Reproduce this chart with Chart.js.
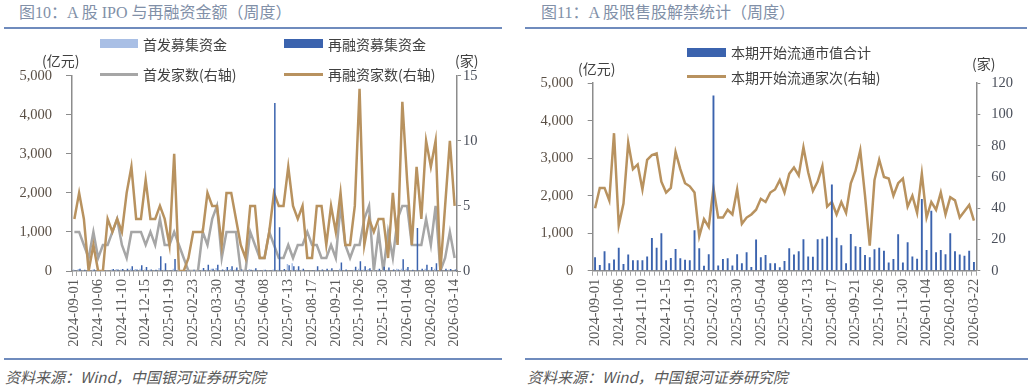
<!DOCTYPE html>
<html>
<head>
<meta charset="utf-8">
<script src="https://cdn.jsdelivr.net/npm/chart.js@4.4.0/dist/chart.umd.min.js"></script>
<style>
body { margin:0; width:1031px; height:387px; background:#fff; position:relative; overflow:hidden;
       font-family:"Liberation Serif","Noto Sans CJK SC",serif; }
.t { position:absolute; white-space:nowrap; line-height:1; }
.title { font-size:16px; color:#8190a8; top:5px; }
.rule { position:absolute; height:2px; background:#6f8bbd; }
.src { font-size:15px; color:#595959; font-style:italic; top:369px; font-family:"Noto Sans CJK SC",sans-serif; }
.leg { font-size:14px; color:#404040; font-family:"Noto Sans CJK SC",sans-serif; }
.unit { font-size:14px; color:#404040; font-family:"Noto Sans CJK SC",sans-serif; }
.sw { position:absolute; }
canvas { position:absolute; top:30px; }
</style>
</head>
<body>

<div class="t title" style="left:19px">图10：A 股 IPO 与再融资金额（周度）</div>
<div class="rule" style="left:4px;width:498px;top:27px"></div>
<div class="t title" style="left:541px">图11：A 股限售股解禁统计（周度）</div>
<div class="rule" style="left:525px;width:502px;top:27px"></div>

<canvas id="chart1" width="510" height="325" style="left:0px"></canvas>
<canvas id="chart2" width="516" height="325" style="left:515px"></canvas>

<!-- left legend -->
<div class="sw" style="left:100px;top:39px;width:38px;height:9px;background:#a9bfe5"></div>
<div class="t leg" style="left:143px;top:37px">首发募集资金</div>
<div class="sw" style="left:284px;top:39px;width:39px;height:9px;background:#3b63ae"></div>
<div class="t leg" style="left:328px;top:37px">再融资募集资金</div>
<div class="sw" style="left:100px;top:73px;width:38px;height:3px;background:#a6a6a6"></div>
<div class="t leg" style="left:143px;top:67px">首发家数(右轴)</div>
<div class="sw" style="left:284px;top:73px;width:39px;height:3px;background:#b8925f"></div>
<div class="t leg" style="left:328px;top:67px">再融资家数(右轴)</div>
<div class="t unit" style="left:42px;top:53px">(亿元)</div>
<div class="t unit" style="left:455px;top:53px">(家)</div>

<!-- right legend -->
<div class="sw" style="left:687px;top:48px;width:39px;height:9px;background:#3b63ae"></div>
<div class="t leg" style="left:731px;top:45px">本期开始流通市值合计</div>
<div class="sw" style="left:687px;top:75px;width:39px;height:3px;background:#b8925f"></div>
<div class="t leg" style="left:731px;top:70px">本期开始流通家次(右轴)</div>
<div class="t unit" style="left:578px;top:61px">(亿元)</div>
<div class="t unit" style="left:972px;top:56px">(家)</div>

<div class="rule" style="left:4px;width:498px;top:358px"></div>
<div class="rule" style="left:525px;width:503px;top:358px"></div>
<div class="t src" style="left:5px">资料来源：Wind，中国银河证券研究院</div>
<div class="t src" style="left:527px">资料来源：Wind，中国银河证券研究院</div>

<script>
// ---- 图10 data (weekly) ----
const leftTicks = ['2024-09-01','2024-10-06','2024-11-10','2024-12-15','2025-01-19','2025-02-23',
  '2025-03-30','2025-05-04','2025-06-08','2025-07-13','2025-08-17','2025-09-21','2025-10-26',
  '2025-11-30','2026-01-04','2026-02-08','2026-03-14'];
// 首发募集资金 (亿元)
const ipoAmt = [40,50,20,10,30,10,20,20,40,50, 40,20,60,50,60,40,30,20,80,30,
  20,60,30,10,0,0,0,30,30,60, 80,20,40,50,40,0,0,50,30,20,
  30,20,40,30,20,180,200,40,30,10, 10,30,20,20,30,10,60,20,10,30,
  60,40,50,0,30,0,30,10,60,60, 60,20,20,20,60,30,60,0,10,40, 10];
// 再融资募集资金 (亿元)
const refiAmt = [20,60,30,10,40,10,10,10,50,40, 50,60,120,40,150,100,40,30,380,200,
  20,310,10,10,20,30,20,80,160,60, 160,40,100,120,90,40,20,30,70,20,
  30,20,4300,1120,50,150,120,120,60,20, 20,120,40,60,70,20,220,40,20,110,
  250,120,70,20,60,110,90,40,40,300, 100,30,1100,60,160,100,200,30,60,50, 40];
// 首发家数 (右轴)
const ipoCnt = [3,3,2,1,3,1,2,2,3,4, 2,1,3,3,3,2,3,2,4,2, 2,3,2,1,0,0,0,3,2,4,
  5,1,3,3,3,0,0,3,2,1, 1,3,2,1,1,2,1,2,2,3, 2,2,1,1,2,1,5,2,1,2,
  2,4,5,0,3,0,3,1,4,5, 5,2,2,2,4,2,5,0,1,3, 1];
// 再融资家数 (右轴)
const refiCnt = [4,6,4,0,2,0,0,4,3,4, 3,6,8,4,4,7,4,4,5,4, 2,9,0,0,1,3,3,3,6,5,
  5,2,6,6,4,2,1,5,5,1, 1,3,6,5,5,8,5,4,5,1, 1,5,5,2,5,3,6,2,2,5,
  14,2,4,3,4,4,1,6,2,13, 7,2,8,4,10,8,10,0,5,10, 5];

// ---- 图11 data (weekly) ----
const rightTicks = ['2024-09-01','2024-10-06','2024-11-10','2024-12-15','2025-01-19','2025-02-23',
  '2025-03-30','2025-05-04','2025-06-08','2025-07-13','2025-08-17','2025-09-21','2025-10-26',
  '2025-11-30','2026-01-04','2026-02-08','2026-03-22'];
// 本期开始流通市值合计 (亿元)
const unlockAmt = [360,150,520,200,300,610,180,430,280,280, 280,380,870,610,1000,280,340,580,330,290,
  280,1080,600,130,440,4670,140,310,330,140, 440,200,490,100,830,360,420,200,200,90,
  260,600,430,520,840,380,370,840,850,910, 2300,880,680,200,980,650,630,420,360,570,
  610,530,220,310,970,220,760,380,320,1910, 550,1600,490,550,440,1000,520,430,400,530, 230];
// 本期开始流通家次 (右轴)
const unlockCnt = [40,53,53,45,88,29,43,82,65,68, 52,71,74,75,57,50,53,76,65,56,
  54,50,22,33,28,53,34,34,39,36, 52,30,34,36,39,46,44,50,52,58,
  50,62,66,61,79,63,51,57,67,41, 44,36,44,37,56,64,77,48,16,58,
  71,60,59,48,56,59,41,48,37,62, 34,44,39,50,36,47,45,34,38,42, 32];

Chart.defaults.animation = false;
const numFont = { family: '"Liberation Serif", "Noto Sans CJK SC", serif', size: 14.5 };
const axisColor = '#8c8c8c';

function catLabels(data, ticks) {
  return data.map((_, i) => i % 5 === 0 ? ticks[i / 5] : '');
}

function xAxis(h) {
  return {
    offset: true,
    grid: { offset: true, drawOnChartArea: false, drawTicks: true, tickLength: 5, color: '#a6a6a6' },
    border: { color: axisColor, width: 1.5 },
    ticks: { autoSkip: false, maxRotation: 90, minRotation: 90, padding: 3, font: numFont, color: '#595959' },
    afterFit: s => { s.height = h; }
  };
}

function yAxis(pos, max, step, pad, tl, w, fmt) {
  return {
    position: pos, min: 0, max: max,
    grid: { drawOnChartArea: false, drawTicks: true, tickLength: tl, color: axisColor },
    border: { color: axisColor, width: 1.5 },
    ticks: { stepSize: step, padding: pad, font: numFont, color: pos === 'left' ? '#5a4f45' : '#4a4f5a',
             callback: v => fmt ? v.toLocaleString('en-US') : v },
    afterFit: s => { s.width = w; }
  };
}

new Chart(document.getElementById('chart1'), {
  type: 'bar',
  data: {
    labels: catLabels(ipoAmt, leftTicks),
    datasets: [
      { label: '首发募集资金', data: ipoAmt, backgroundColor: '#a9bfe5', yAxisID: 'y', order: 0,
        categoryPercentage: 0.7, barPercentage: 0.9 },
      { label: '再融资募集资金', data: refiAmt, backgroundColor: '#3b63ae', yAxisID: 'y', order: 0,
        categoryPercentage: 0.7, barPercentage: 0.9 },
      { type: 'line', label: '首发家数(右轴)', data: ipoCnt, borderColor: '#a6a6a6', borderWidth: 2.5,
        pointRadius: 0, tension: 0, yAxisID: 'y1', order: 2 },
      { type: 'line', label: '再融资家数(右轴)', data: refiCnt, borderColor: '#b8925f', borderWidth: 2.5,
        pointRadius: 0, tension: 0, yAxisID: 'y1', order: 1 }
    ]
  },
  options: {
    responsive: false,
    devicePixelRatio: 1,
    layout: { padding: { top: 45.7, bottom: 0, left: 0, right: 0 } },
    plugins: { legend: { display: false }, tooltip: { enabled: false } },
    scales: {
      x: xAxis(84),
      y: yAxis('left', 5000, 1000, 14, 6, 72, true),
      y1: yAxis('right', 15, 5, 2, 4, 53, false)
    }
  }
});

new Chart(document.getElementById('chart2'), {
  type: 'bar',
  data: {
    labels: catLabels(unlockAmt, rightTicks),
    datasets: [
      { label: '本期开始流通市值合计', data: unlockAmt, backgroundColor: '#3b63ae', yAxisID: 'y', order: 0,
        categoryPercentage: 0.4, barPercentage: 1 },
      { type: 'line', label: '本期开始流通家次(右轴)', data: unlockCnt, borderColor: '#b8925f', borderWidth: 2.5,
        pointRadius: 0, tension: 0, yAxisID: 'y1', order: 1 }
    ]
  },
  options: {
    responsive: false,
    devicePixelRatio: 1,
    layout: { padding: { top: 53.2, bottom: 0, left: 0, right: 0 } },
    plugins: { legend: { display: false }, tooltip: { enabled: false } },
    scales: {
      x: xAxis(84.3),
      y: yAxis('left', 5000, 1000, 14.5, 5, 77.7, true),
      y1: yAxis('right', 120, 20, 11, 4, 54.7, false)
    }
  }
});
</script>
</body>
</html>
